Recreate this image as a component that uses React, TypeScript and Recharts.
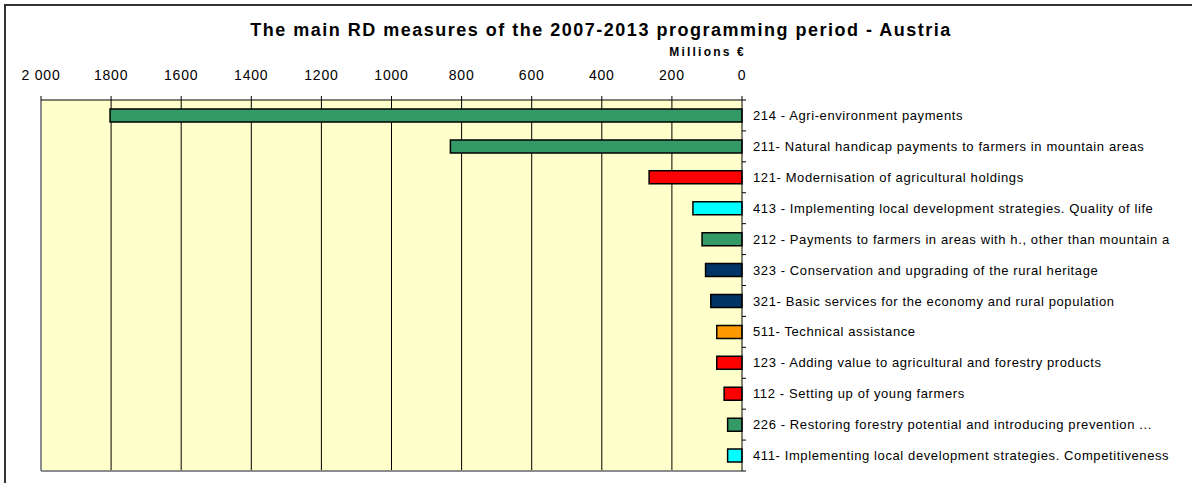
import React from "react";
import {
  BarChart,
  Bar,
  XAxis,
  YAxis,
  CartesianGrid,
  Cell,
} from "recharts";

// mesures RD, de haut en bas
const measures = [
  "214 - Agri-environment payments",
  "211- Natural handicap payments to farmers in mountain areas",
  "121- Modernisation of agricultural holdings",
  "413 - Implementing local development strategies. Quality of life",
  "212 - Payments to farmers in areas with h., other than mountain a",
  "323 - Conservation and upgrading of the rural heritage",
  "321- Basic services for the economy and rural population",
  "511- Technical assistance",
  "123 - Adding value to agricultural and forestry products",
  "112 - Setting up of young farmers",
  "226 - Restoring forestry potential and introducing prevention ...",
  "411- Implementing local development strategies. Competitiveness",
];
const amounts = [1803, 832, 265, 140, 114, 104, 89, 72, 72, 51, 41, 41];
const axisGroups = ["axis2", "axis2", "axis1", "axis4", "axis2", "axis3", "axis3", "ta", "axis1", "axis1", "axis2", "axis4"];
const xTicks = [0, 200, 400, 600, 800, 1000, 1200, 1400, 1600, 1800, 2000];

const groupColors: Record<string, string> = {
  axis1: "#FF0000",
  axis2: "#339966",
  axis3: "#003366",
  axis4: "#00FFFF",
  ta: "#FF9900",
};

const W = 1192;
const H = 483;
const MARGIN = { top: 70, right: 0, bottom: 12, left: 41 };
const X_AXIS_H = 30;
const Y_AXIS_W = 450;
const FONT = "'Liberation Sans', Arial, sans-serif";

const chartData = measures.map((name, i) => ({
  name,
  value: amounts[i],
  color: groupColors[axisGroups[i]],
}));

const band = (H - MARGIN.top - MARGIN.bottom - X_AXIS_H) / measures.length;

function MeasureTick(props: any) {
  const { x, y, payload, index } = props;
  return (
    <g>
      <line x1={x} x2={x + 4} y1={y - band / 2} y2={y - band / 2} stroke="#000" />
      {index === measures.length - 1 && (
        <line x1={x} x2={x + 4} y1={y + band / 2} y2={y + band / 2} stroke="#000" />
      )}
      <text x={x + 11} y={y} dy="0.35em" fontSize={13} fill="#000" fontFamily={FONT} letterSpacing={0.6}>
        {payload.value}
      </text>
    </g>
  );
}

const fmt = (v: number) => (v === 2000 ? "2 000" : String(v));

export default function App() {
  return (
    <div style={{ position: "absolute", left: 0, top: 0, width: W, height: H, overflow: "hidden", background: "#fff", fontFamily: FONT }}>
      <div
        style={{
          position: "absolute",
          left: 4,
          top: 4,
          width: W,
          height: H,
          borderLeft: "2px solid #333",
          borderTop: "2px solid #333",
        }}
      />
      <div style={{ position: "absolute", left: 0, width: 1202, top: 20, textAlign: "center", fontWeight: "bold", fontSize: 18, letterSpacing: 1.5 }}>
        The main RD measures of the 2007-2013 programming period - Austria
      </div>
      <div style={{ position: "absolute", right: W - 746, top: 45, fontWeight: "bold", fontSize: 12, letterSpacing: 2.2 }}>
        Millions €
      </div>
      <div style={{ position: "absolute", left: 0, top: 0 }}>
        <BarChart width={W} height={H} data={chartData} layout="vertical" margin={MARGIN} barSize={13}>
          <CartesianGrid
            horizontal={false}
            vertical
            stroke="#000"
            fill="#FFFFCC"
            verticalCoordinatesGenerator={({ offset }: any) => {
              const step = offset.width / 10;
              return [1, 2, 3, 4, 5, 6, 7, 8, 9].map((k) => offset.left + k * step);
            }}
          />
          <CartesianGrid
            stroke="#8c8c8c"
            strokeWidth={2}
            verticalCoordinatesGenerator={({ offset }: any) => [offset.left]}
            horizontalCoordinatesGenerator={({ offset }: any) => [offset.top + offset.height]}
          />
          <XAxis
            type="number"
            orientation="top"
            domain={[0, 2000]}
            ticks={xTicks}
            reversed
            height={X_AXIS_H}
            tickFormatter={fmt}
            tickSize={4}
            tickMargin={16}
            stroke="#000"
            tick={{ fill: "#000", fontSize: 14, fontFamily: FONT, letterSpacing: 0.8 }}
            interval={0}
          />
          <YAxis
            type="category"
            dataKey="name"
            orientation="right"
            width={Y_AXIS_W}
            tickLine={false}
            tickSize={0}
            tickMargin={0}
            stroke="#000"
            tick={<MeasureTick />}
            interval={0}
          />
          <Bar dataKey="value" stroke="#000" strokeWidth={1.5} isAnimationActive={false}>
            {chartData.map((d, i) => (
              <Cell key={i} fill={d.color} />
            ))}
          </Bar>
        </BarChart>
      </div>
    </div>
  );
}
